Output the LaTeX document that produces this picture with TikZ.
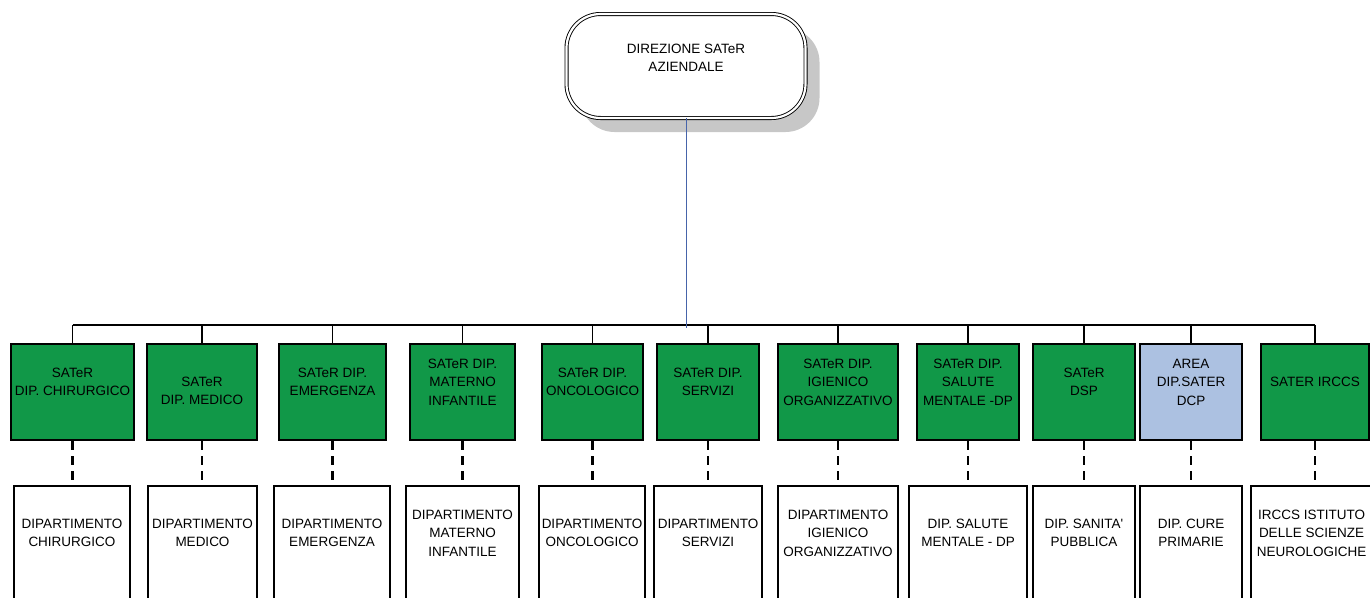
\documentclass[tikz,border=0pt]{standalone}
\usepackage{fontspec}
\setmainfont{Liberation Sans}
\usetikzlibrary{shadows}

\definecolor{satergreen}{RGB}{17,152,72}
\definecolor{dcpblue}{RGB}{172,193,225}
\definecolor{linkblue}{RGB}{70,100,170}

\tikzset{
  txt/.style={align=center, font=\fontsize{13.5}{18.5}\selectfont, inner sep=0pt},
  satbox/.style={draw, line width=2pt, fill=satergreen, minimum height=96pt, inner sep=0pt},
  dipbox/.style={draw, line width=2pt, fill=white, minimum height=134pt, inner sep=0pt},
  link/.style={line width=1.2pt},
  dashlink/.style={line width=2.2pt, dash pattern=on 9pt off 6pt},
}

\begin{document}
\begin{tikzpicture}[x=1pt, y=-1pt]
    \useasboundingbox (0,0) rectangle (1370,597);

    % direzione
    \node[draw, line width=0.9pt, double, double distance=2.2pt, rounded corners=34pt, fill=white,
          minimum width=239pt, minimum height=104pt,
          drop shadow={shadow xshift=14pt, shadow yshift=-14pt, fill=black!22, opacity=1},
          label={[txt, yshift=8pt]center:{DIREZIONE SATeR\\AZIENDALE}}] (dir) at (686, 66) {};

    % SATeR
    \node[satbox, minimum width=123pt, label={[txt, yshift=10pt]center:{SATeR\\DIP. CHIRURGICO}}] (sat1) at (72.5, 392) {};
    \node[satbox, minimum width=110pt, label={[txt, yshift=1pt]center:{SATeR\\DIP. MEDICO}}] (sat2) at (202, 392) {};
    \node[satbox, minimum width=107pt, label={[txt, yshift=10pt]center:{SATeR DIP.\\EMERGENZA}}] (sat3) at (332.5, 392) {};
    \node[satbox, minimum width=105pt, label={[txt, yshift=10pt]center:{SATeR DIP.\\MATERNO\\INFANTILE}}] (sat4) at (462.5, 392) {};
    \node[satbox, minimum width=101pt, label={[txt, yshift=10pt]center:{SATeR DIP.\\ONCOLOGICO}}] (sat5) at (592.5, 392) {};
    \node[satbox, minimum width=102pt, label={[txt, yshift=10pt]center:{SATeR DIP.\\SERVIZI}}] (sat6) at (708, 392) {};
    \node[satbox, minimum width=120pt, label={[txt, yshift=10pt]center:{SATeR DIP.\\IGIENICO\\ORGANIZZATIVO}}] (sat7) at (838, 392) {};
    \node[satbox, minimum width=102pt, label={[txt, yshift=10pt]center:{SATeR DIP.\\SALUTE\\MENTALE -DP}}] (sat8) at (968, 392) {};
    \node[satbox, minimum width=102pt, label={[txt, yshift=10pt]center:{SATeR\\DSP}}] (sat9) at (1084, 392) {};
    \node[satbox, fill=dcpblue, minimum width=102pt, label={[txt, yshift=10pt]center:{AREA\\DIP.SATER\\DCP}}] (sat10) at (1191, 392) {};
    \node[satbox, minimum width=108pt, label={[txt, yshift=10pt]center:{SATER IRCCS}}] (sat11) at (1315, 392) {};

    % dipartimenti
    \node[dipbox, minimum width=116pt, label={[txt, yshift=20pt]center:{DIPARTIMENTO\\CHIRURGICO}}] (dip1) at (72, 553) {};
    \node[dipbox, minimum width=109pt, label={[txt, yshift=20pt]center:{DIPARTIMENTO\\MEDICO}}] (dip2) at (202.5, 553) {};
    \node[dipbox, minimum width=116pt, label={[txt, yshift=20pt]center:{DIPARTIMENTO\\EMERGENZA}}] (dip3) at (332, 553) {};
    \node[dipbox, minimum width=113pt, label={[txt, yshift=20pt]center:{DIPARTIMENTO\\MATERNO\\INFANTILE}}] (dip4) at (462.5, 553) {};
    \node[dipbox, minimum width=106pt, label={[txt, yshift=20pt]center:{DIPARTIMENTO\\ONCOLOGICO}}] (dip5) at (592, 553) {};
    \node[dipbox, minimum width=108pt, label={[txt, yshift=20pt]center:{DIPARTIMENTO\\SERVIZI}}] (dip6) at (708, 553) {};
    \node[dipbox, minimum width=120pt, label={[txt, yshift=20pt]center:{DIPARTIMENTO\\IGIENICO\\ORGANIZZATIVO}}] (dip7) at (838, 553) {};
    \node[dipbox, minimum width=118pt, label={[txt, yshift=20pt]center:{DIP. SALUTE\\MENTALE - DP}}] (dip8) at (968, 553) {};
    \node[dipbox, minimum width=102pt, label={[txt, yshift=20pt]center:{DIP. SANITA\textquotesingle\\PUBBLICA}}] (dip9) at (1084, 553) {};
    \node[dipbox, minimum width=102pt, label={[txt, yshift=20pt]center:{DIP. CURE\\PRIMARIE}}] (dip10) at (1191, 553) {};
    \node[dipbox, minimum width=121pt, label={[txt, yshift=20pt]center:{IRCCS ISTITUTO\\DELLE SCIENZE\\NEUROLOGICHE}}] (dip11) at (1311.5, 553) {};

    % bus
    \coordinate (bus) at (685, 325);
    \coordinate (busend) at (685, 328);
    \draw[link] (sat1.north |- bus) -- (sat11.north |- bus);
    \draw[link] (sat1.north) -- (sat1.north |- bus);
    \draw[link] (sat2.north) -- (sat2.north |- bus);
    \draw[link] (sat3.north) -- (sat3.north |- bus);
    \draw[link] (sat4.north) -- (sat4.north |- bus);
    \draw[link] (sat5.north) -- (sat5.north |- bus);
    \draw[link] (sat6.north) -- (sat6.north |- bus);
    \draw[link] (sat7.north) -- (sat7.north |- bus);
    \draw[link] (sat8.north) -- (sat8.north |- bus);
    \draw[link] (sat9.north) -- (sat9.north |- bus);
    \draw[link] (sat10.north) -- (sat10.north |- bus);
    \draw[link] (sat11.north) -- (sat11.north |- bus);
    \draw[linkblue, line width=0.8pt] (dir.south) -- (dir.south |- busend);

    % tratteggi
    \draw[dashlink] (sat1.south) -- (sat1.south |- dip1.north);
    \draw[dashlink] (sat2.south) -- (sat2.south |- dip2.north);
    \draw[dashlink] (sat3.south) -- (sat3.south |- dip3.north);
    \draw[dashlink] (sat4.south) -- (sat4.south |- dip4.north);
    \draw[dashlink] (sat5.south) -- (sat5.south |- dip5.north);
    \draw[dashlink] (sat6.south) -- (sat6.south |- dip6.north);
    \draw[dashlink] (sat7.south) -- (sat7.south |- dip7.north);
    \draw[dashlink] (sat8.south) -- (sat8.south |- dip8.north);
    \draw[dashlink] (sat9.south) -- (sat9.south |- dip9.north);
    \draw[dashlink] (sat10.south) -- (sat10.south |- dip10.north);
    \draw[dashlink] (sat11.south) -- (sat11.south |- dip11.north);
\end{tikzpicture}
\end{document}
